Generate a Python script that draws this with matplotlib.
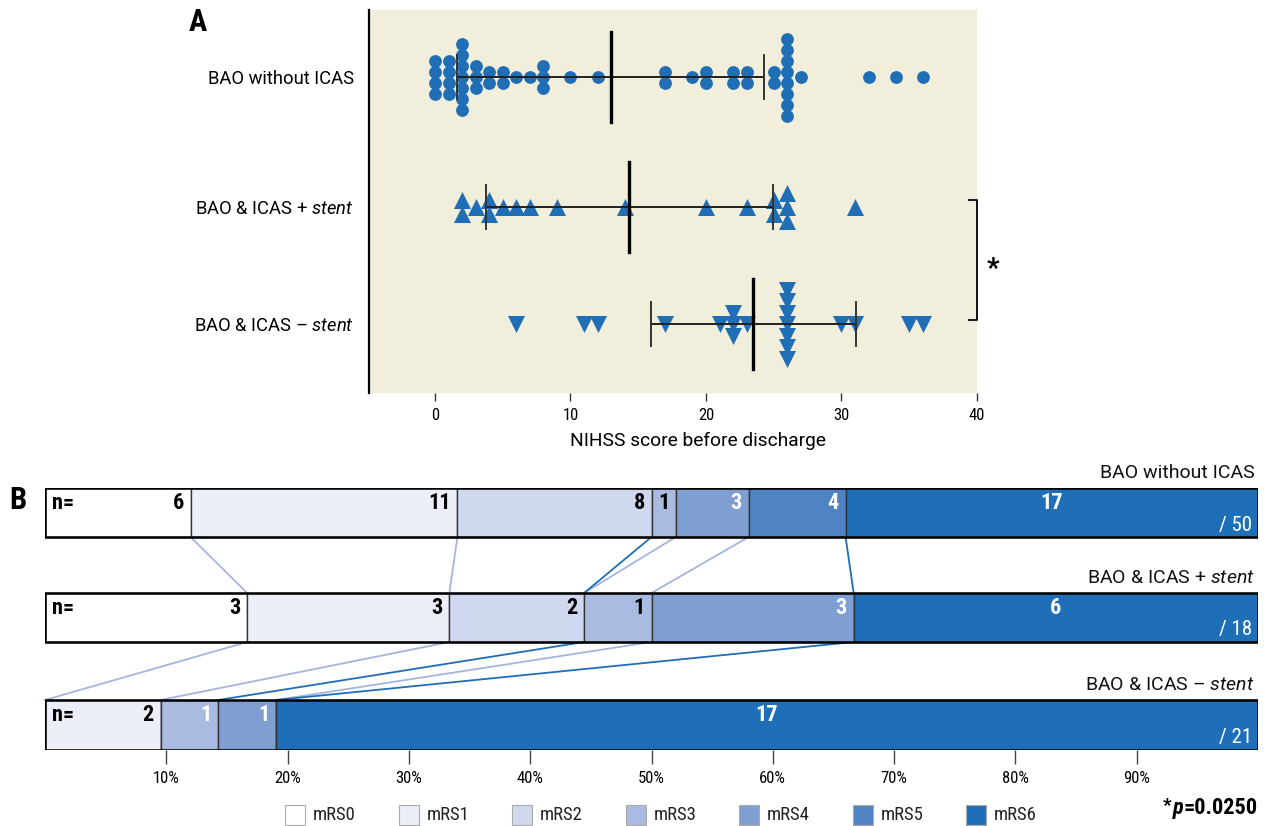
import numpy as np
import matplotlib
matplotlib.use("Agg")
import matplotlib.pyplot as plt
from matplotlib import font_manager
from matplotlib.patches import Rectangle
from matplotlib.offsetbox import TextArea, HPacker, AnnotationBbox

# ---------------- data ----------------
groups = ["BAO without ICAS", "BAO & ICAS + stent", "BAO & ICAS \u2013 stent"]
group_labels = ["BAO without ICAS", "BAO & ICAS + $\\mathit{stent}$", "BAO & ICAS \u2013 $\\mathit{stent}$"]

nihss_without = [0, 0, 0, 0, 1, 1, 1, 1, 2, 2, 2, 2, 2, 2, 2, 3, 3, 3, 4, 4, 5, 5, 6, 7,
                 8, 8, 8, 10, 12, 17, 17, 19, 20, 20, 22, 22, 23, 23, 25, 25,
                 26, 26, 26, 26, 26, 26, 26, 26, 27, 32, 34, 36]
nihss_stent = [2, 2, 3, 4, 4, 5, 6, 7, 9, 14, 20, 23, 25, 25, 26, 26, 26, 31]
nihss_nostent = [6, 11, 12, 17, 21, 22, 22, 22, 23, 26, 26, 26, 26, 26, 26, 26, 30, 31, 35, 36]
nihss_ticks = [0, 10, 20, 30, 40]
p_value_A = "0.0077"

mrs_labels = ["mRS0", "mRS1", "mRS2", "mRS3", "mRS4", "mRS5", "mRS6"]
mrs_without = [6, 11, 8, 1, 3, 4, 17]
mrs_stent = [3, 3, 2, 1, 3, 0, 6]
mrs_nostent = [0, 2, 0, 1, 1, 0, 17]
pct_ticks = [10, 20, 30, 40, 50, 60, 70, 80, 90]
p_value_B = "0.0250"
# connector lines between rows: (boundary index in upper row, boundary index in lower row)
links_1_2 = [(0, 0), (1, 1), (2, 2), (3, 2), (4, 3), (5, 5)]
links_2_3 = [(0, 0), (1, 1), (2, 3), (3, 4), (5, 5)]

# ---------------- style ----------------
W, H = 1271, 826
names = {f.name for f in font_manager.fontManager.ttflist}
FONT = "DejaVu Sans"
for cand in ["Roboto Condensed", "Liberation Sans Narrow", "Roboto", "Liberation Sans"]:
    if cand in names:
        FONT = cand
        break
FONT_R = "Roboto" if "Roboto" in names else "Liberation Sans"
plt.rcParams["font.family"] = [FONT, "DejaVu Sans"]
plt.rcParams["mathtext.fontset"] = "custom"
plt.rcParams["mathtext.rm"] = FONT_R
plt.rcParams["mathtext.it"] = FONT_R + ":italic"
plt.rcParams["mathtext.bf"] = FONT_R + ":bold"
REG = [FONT_R, "DejaVu Sans"]

BLUE = "#1F6EB6"
mrs_colors = ["#FFFFFF", "#ECEFF8", "#D0D8EF", "#A9BBE0", "#7F9FD3", "#4F83C3", "#1F6FB8"]
LIGHT_LINK = "#A3B6DE"
DARK_LINK = "#1F6EB6"

fig = plt.figure(figsize=(W / 100, H / 100), dpi=100)

# overlay axes in pixel coordinates for annotations
ov = fig.add_axes([0, 0, 1, 1])
ov.set_xlim(0, W)
ov.set_ylim(H, 0)
ov.axis("off")

# ---------------- Panel A ----------------
axA = fig.add_axes([369 / W, 1 - 393 / H, (977 - 369) / W, (393 - 10) / H])
axA.set_facecolor("#F2EEDC")
axA.set_xlim(-4.87, 40)
ypos = [0.0, 1.04, 1.98]
ylo, yhi = -0.54, 2.53
axA.set_ylim(yhi, ylo)
px = (yhi - ylo) / 383.0  # data units per pixel

def swarm_offsets(values, step):
    values = np.asarray(values)
    offs = np.zeros(len(values))
    for v in np.unique(values):
        idx = np.where(values == v)[0]
        n = len(idx)
        offs[idx] = (np.arange(n) - (n - 1) / 2) * step
    return offs

series = [nihss_without, nihss_stent, nihss_nostent]
markers = ["o", "^", "v"]
sizes = [85, 150, 150]
steps = [11, 14, 11.5]
for vals, y, mk, s, st in zip(series, ypos, markers, sizes, steps):
    vals = np.asarray(vals, dtype=float)
    offs = swarm_offsets(vals, st * px)
    axA.scatter(vals, y + offs, marker=mk, s=s, color=BLUE, linewidths=0, zorder=2)
    m = vals.mean()
    sd = vals.std(ddof=1)
    axA.plot([m - sd, m + sd], [y, y], color="#222222", lw=1.4, zorder=3)
    for e in (m - sd, m + sd):
        axA.plot([e, e], [y - 22 * px, y + 22 * px], color="#333333", lw=1.4, zorder=3)
    axA.plot([m, m], [y - 45 * px, y + 45 * px], color="black", lw=2.4, zorder=4)

axA.set_yticks(ypos)
axA.set_yticklabels(group_labels, fontsize=13.2, family=REG)
axA.tick_params(axis="y", length=0, pad=11)
axA.set_xticks(nihss_ticks)
axA.tick_params(axis="x", length=6, width=1, color="#333333", pad=5, labelsize=12)
axA.set_xlabel("NIHSS score before discharge", fontsize=13.8, labelpad=6, family=REG)
axA.xaxis.label.set_x((698 - 369) / (977 - 369))
for sp in ["top", "right", "bottom"]:
    axA.spines[sp].set_visible(False)
axA.spines["left"].set_linewidth(1.6)
axA.spines["left"].set_color("black")

# significance bracket between stent groups
by0 = ypos[1] - 7 * px
by1 = ypos[2] - 4 * px
axA.plot([39.4, 40.0, 40.0, 39.4], [by0, by0, by1, by1], color="black", lw=1.3, clip_on=False)
axA.text(41.2, (by0 + by1) / 2 + 9 * px, "*", fontsize=20, fontweight="bold",
         ha="center", va="center")

def pval(x, y, value, size):
    star = TextArea("*", textprops=dict(fontsize=size * 0.85, fontweight="bold"))
    p = TextArea("p", textprops=dict(fontsize=size, fontweight="bold", style="italic"))
    rest = TextArea("=" + value, textprops=dict(fontsize=size, fontweight="bold"))
    box = HPacker(children=[star, p, rest], align="top", pad=0, sep=0.5)
    ab = AnnotationBbox(box, (x, y), xycoords="data", box_alignment=(1, 0.5),
                        frameon=False, pad=0)
    ov.add_artist(ab)

pval(959, 33, p_value_A, 16)
ov.text(198, 22, "A", fontsize=22, fontweight="bold", ha="center", va="center")
ov.text(18, 500, "B", fontsize=22, fontweight="bold", ha="center", va="center")

# ---------------- Panel B ----------------
axB = fig.add_axes([45 / W, 1 - 750 / H, 1213 / W, (750 - 488) / H])
axB.set_xlim(0, 100)
axB.set_ylim(262, 0)
row_tops = [0, 105, 212]
bar_h = [49, 49, 50]
rows = [mrs_without, mrs_stent, mrs_nostent]
white_from = [4, 4, 3]

bounds = []
for r, (counts, top, h) in enumerate(zip(rows, row_tops, bar_h)):
    counts = np.asarray(counts, dtype=float)
    n = counts.sum()
    pct = counts / n * 100
    cum = np.cumsum(pct)
    left = cum - pct
    bounds.append(cum[:-1])
    axB.barh(top + h / 2, pct, left=left, height=h, color=mrs_colors,
             edgecolor="#333333", linewidth=1.0, zorder=2)
    axB.add_patch(Rectangle((0, top), 100, h, fill=False, ec="black", lw=1.8, zorder=3))
    for k, (c, l, w) in enumerate(zip(counts, left, pct)):
        if c == 0:
            continue
        col = "white" if k >= white_from[r] else "black"
        if k == len(counts) - 1:
            axB.text(l + w / 2, top + 15, f"{int(c)}", ha="center", va="center",
                     fontsize=16, fontweight="bold", color=col, zorder=4)
        else:
            axB.text(l + w - 0.55, top + 15, f"{int(c)}", ha="right", va="center",
                     fontsize=16, fontweight="bold", color=col, zorder=4)
    axB.text(0.6, top + 15, "n=", ha="left", va="center", fontsize=16,
             fontweight="bold", color="black", zorder=4)
    axB.text(99.5, top + 37, f"/ {int(n)}", ha="right", va="center", fontsize=15,
             color="white", zorder=4)
    axB.text(99.7, top - 15, group_labels[r], ha="right", va="center", fontsize=14,
             color="#111111", family=REG)

link_colors = [LIGHT_LINK, LIGHT_LINK, DARK_LINK, LIGHT_LINK, LIGHT_LINK, DARK_LINK]
for r, links in enumerate([links_1_2, links_2_3]):
    ytop = row_tops[r] + bar_h[r]
    ybot = row_tops[r + 1]
    order = sorted(links, key=lambda t: link_colors[t[0]] == DARK_LINK)
    for iu, il in order:
        axB.plot([bounds[r][iu], bounds[r + 1][il]], [ytop, ybot],
                 color=link_colors[iu], lw=1.3, zorder=1, clip_on=False)

axB.set_xticks(pct_ticks)
axB.set_xticklabels([f"{t}%" for t in pct_ticks])
axB.tick_params(axis="x", length=10, width=1, color="#444444", pad=5, labelsize=12)
axB.set_yticks([])
for sp in axB.spines.values():
    sp.set_visible(False)

# legend
for i, (lab, col) in enumerate(zip(mrs_labels, mrs_colors)):
    x0 = 285 + i * 113.5
    ov.add_patch(Rectangle((x0, 805), 20, 20, facecolor=col, edgecolor="#AAAAAA", lw=0.8))
    ov.text(x0 + 28, 815, lab, ha="left", va="center", fontsize=13.5, color="#222222")

pval(1258, 808, p_value_B, 16)

fig.savefig("out.png", dpi=100)
